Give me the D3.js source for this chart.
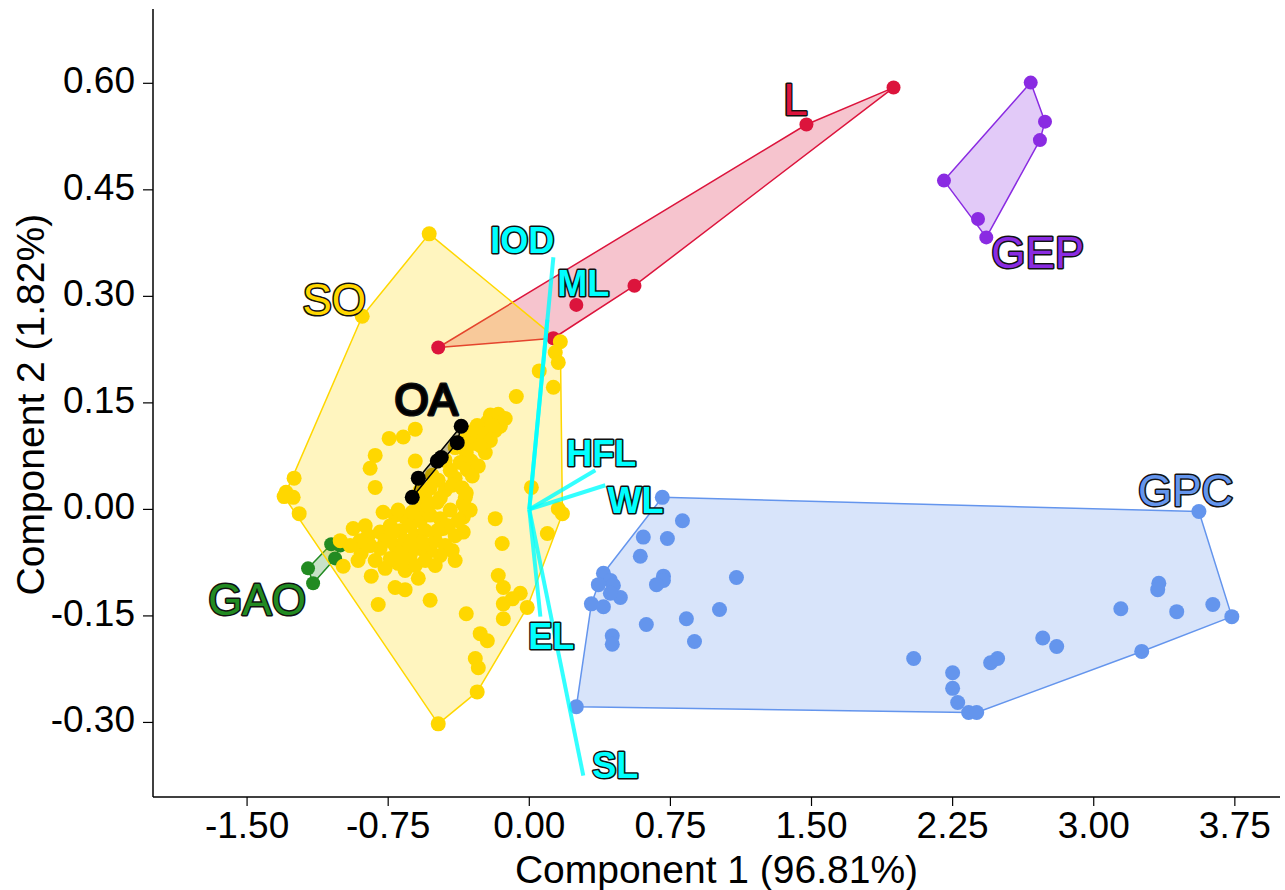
<!DOCTYPE html>
<html>
<head>
<meta charset="utf-8">
<script src="https://cdn.jsdelivr.net/npm/d3@7"></script>
<style>
  body { margin: 0; background: #ffffff; }
  text { font-family: "Liberation Sans", Arial, sans-serif; }
</style>
</head>
<body>
<svg id="chart" width="1285" height="890"></svg>
<script>
// ---- PCA scores (Component 1, Component 2) per group ----
const groupNames = ["GPC", "GEP", "L", "GAO", "SO", "OA"];

const scoresGPC = [
  [0.707,0.017],[0.814,-0.016],[0.606,-0.039],[0.734,-0.041],[0.590,-0.066],[0.394,-0.090],
  [0.431,-0.100],[0.367,-0.106],[0.447,-0.107],[0.484,-0.124],[0.431,-0.118],[0.330,-0.133],
  [0.394,-0.137],[0.713,-0.094],[0.713,-0.100],[0.676,-0.106],[1.101,-0.096],[1.011,-0.141],
  [0.835,-0.154],[0.622,-0.162],[0.441,-0.178],[0.441,-0.190],[0.878,-0.186],[0.250,-0.278],
  [3.559,-0.003],[3.346,-0.104],[3.340,-0.113],[3.633,-0.134],[3.734,-0.151],[3.441,-0.144],
  [3.144,-0.140],[3.255,-0.200],[2.729,-0.181],[2.803,-0.193],[2.452,-0.216],[2.489,-0.210],
  [2.043,-0.210],[2.250,-0.230],[2.250,-0.252],[2.277,-0.272],[2.335,-0.286],[2.378,-0.286]
];

const scoresGEP = [
  [2.665,0.601],[2.741,0.546],[2.714,0.520],[2.204,0.463],[2.385,0.409],[2.429,0.383]
];

const scoresL = [
  [1.936,0.594],[1.473,0.542],[0.559,0.315],[0.250,0.288],[-0.484,0.228],[0.128,0.241]
];

const scoresGAO = [
  [-1.053,-0.049],[-1.005,-0.051],[-1.032,-0.069],[-1.176,-0.083],[-1.149,-0.104]
];

const scoresSO = [
  [-0.532,0.388],[-0.888,0.272],[0.165,0.236],[0.138,0.221],[0.154,0.207],[0.053,0.195],
  [0.128,0.172],[-0.069,0.159],[-1.250,0.044],[-1.293,0.024],[-1.255,0.017],[-1.223,-0.006],
  [-1.303,0.018],[-0.819,0.076],[-0.846,0.058],[-0.819,0.031],[-0.745,0.100],[-0.670,0.102],
  [-0.606,0.113],[-0.606,0.068],[0.011,0.031],[0.176,-0.006],[0.154,0.001],[0.096,-0.034],
  [-0.181,-0.013],[-0.144,-0.048],[-0.351,-0.032],[-0.351,-0.011],[-0.165,-0.093],[-0.138,-0.110],
  [-0.138,-0.133],[-0.048,-0.118],[-0.011,-0.138],[-0.138,-0.154],[-0.090,-0.126],[-0.840,-0.094],
  [-0.803,-0.134],[-0.713,-0.110],[-0.660,-0.113],[-0.527,-0.128],[-0.335,-0.147],[-0.261,-0.175],
  [-0.223,-0.185],[-0.287,-0.210],[-0.271,-0.223],[-0.277,-0.257],[-0.484,-0.302],[-0.989,-0.080],
  [-0.936,-0.027],[-0.894,-0.062],[-0.697,-0.076],
  [-0.207,0.133],[-0.165,0.134],[-0.154,0.117],[-0.223,0.123],[-0.277,0.118],[-0.250,0.107],
  [-0.314,0.109],[-0.293,0.093],[-0.234,0.080],[-0.351,0.097],[-0.394,0.087],[-0.335,0.080],
  [-0.367,0.066],[-0.309,0.068],[-0.420,0.055],[-0.447,0.069],[-0.330,0.056],[-0.394,0.044],
  [-0.484,0.041],[-0.447,0.027],[-0.527,0.030],[-0.553,0.016],[-0.473,0.016],[-0.410,0.034],
  [-0.356,0.030],[-0.340,0.017],[-0.340,0.003],[-0.271,0.061],[-0.303,0.047],[-0.207,0.097],
  [-0.261,0.090],[-0.181,0.111],[-0.516,0.048],[-0.580,0.027],[-0.128,0.128],[-0.197,0.118],
  [-0.856,-0.037],[-0.793,-0.032],[-0.713,-0.008],[-0.660,-0.011],[-0.739,-0.023],[-0.686,-0.030],
  [-0.633,-0.023],[-0.580,-0.016],[-0.527,-0.008],[-0.473,-0.013],[-0.457,-0.027],[-0.420,-0.001],
  [-0.590,0.001],[-0.537,0.006],[-0.489,0.010],[-0.766,-0.044],[-0.713,-0.051],[-0.660,-0.044],
  [-0.606,-0.037],[-0.553,-0.030],[-0.500,-0.044],[-0.447,-0.051],[-0.394,-0.037],[-0.410,-0.058],
  [-0.473,-0.065],[-0.527,-0.058],[-0.580,-0.055],[-0.633,-0.065],[-0.686,-0.061],[-0.739,-0.069],
  [-0.793,-0.055],[-0.846,-0.051],[-0.899,-0.044],[-0.819,-0.072],[-0.766,-0.083],[-0.660,-0.086],
  [-0.606,-0.079],[-0.553,-0.072],[-0.500,-0.079],[-0.431,-0.023],[-0.378,-0.016],[-0.314,-0.001],
  [-0.351,0.008],[-0.335,0.023],[-0.952,-0.051],[-0.910,-0.072],[-0.729,-0.034],[-0.569,-0.047],
  [-0.489,-0.030],[-0.633,-0.051],[-0.697,-0.001],[-0.622,-0.004],[-0.394,-0.072],[-0.872,-0.023],
  [-1.005,-0.044],[-0.676,-0.072],[-0.590,-0.097],[-0.777,-0.004]
];

const scoresOA = [
  [-0.362,0.117],[-0.383,0.094],[-0.468,0.073],[-0.489,0.068],[-0.590,0.044],[-0.622,0.017]
];

// group label anchors (data units)
const groupLabelX = [3.489, 2.702, 1.415, -1.447, -1.037, -0.548];
const groupLabelY = [0.027, 0.362, 0.577, -0.126, 0.296, 0.155];

// ---- variable loadings ----
const loadingNames = ["IOD", "ML", "HFL", "WL", "EL", "SL"];
const loadingX = [0.128, 0.096, 0.351, 0.404, 0.059, 0.287];
const loadingY = [0.355, 0.267, 0.055, 0.034, -0.151, -0.375];
const loadingLabelX = [-0.037, 0.287, 0.383, 0.564, 0.117, 0.457];
const loadingLabelY = [0.379, 0.319, 0.080, 0.013, -0.178, -0.360];

// ---- axes ----
const xTicks = [-1.5, -0.75, 0, 0.75, 1.5, 2.25, 3.0, 3.75];
const yTicks = [-0.3, -0.15, 0, 0.15, 0.3, 0.45, 0.6];
const xTitle = "Component 1 (96.81%)";
const yTitle = "Component 2 (1.82%)";

// ---- styling ----
const groupColor = {
  GPC: "#6495ED", GEP: "#8A2BE2", L: "#DC143C", GAO: "#228B22", SO: "#FFD700", OA: "#000000"
};
const pointRadius = { GPC: 7.5, GEP: 7, L: 7, GAO: 7, SO: 7.5, OA: 7.5 };
const groupScores = { GPC: scoresGPC, GEP: scoresGEP, L: scoresL, GAO: scoresGAO, SO: scoresSO, OA: scoresOA };

const plot = { left: 153, right: 1280, top: 12.3, bottom: 797, axisTop: 9 };

const x = d3.scaleLinear().domain([-2.0, 3.99]).range([plot.left, plot.right]);
const y = d3.scaleLinear().domain([-0.405, 0.7]).range([plot.bottom, plot.top]);

const svg = d3.select("#chart");
const hullLayer = svg.append("g");
const pointLayer = svg.append("g");
const topLayer = svg.append("g");

function drawHull(layer, g) {
  const pts = groupScores[g].map(d => [x(d[0]), y(d[1])]);
  const hull = d3.polygonHull(pts);
  const col = groupColor[g];
  if (hull) {
    layer.append("path")
      .attr("d", "M" + hull.join("L") + "Z")
      .attr("fill", col)
      .attr("fill-opacity", 0.25)
      .attr("stroke", col)
      .attr("stroke-width", 1.5)
      .attr("stroke-linejoin", "round");
  }
}
function drawPoints(layer, g) {
  layer.append("g")
    .selectAll("circle")
    .data(groupScores[g])
    .join("circle")
    .attr("cx", d => x(d[0]))
    .attr("cy", d => y(d[1]))
    .attr("r", pointRadius[g])
    .attr("fill", groupColor[g]);
}

// the OA group sits inside SO, so its hull and points go on top
groupNames.filter(g => g !== "OA").forEach(g => drawHull(hullLayer, g));
groupNames.filter(g => g !== "OA").forEach(g => drawPoints(pointLayer, g));
drawHull(topLayer, "OA");
drawPoints(topLayer, "OA");

// loading vectors from the origin
const vec = svg.append("g");
loadingNames.forEach((n, i) => {
  vec.append("line")
    .attr("x1", x(0)).attr("y1", y(0))
    .attr("x2", x(loadingX[i])).attr("y2", y(loadingY[i]))
    .attr("stroke", "#00FFFF")
    .attr("stroke-opacity", 0.8)
    .attr("stroke-width", 4)
    .attr("stroke-linecap", "butt");
});

// axes
const axisG = svg.append("g");
axisG.append("line")
  .attr("x1", plot.left).attr("x2", plot.right)
  .attr("y1", plot.bottom).attr("y2", plot.bottom)
  .attr("stroke", "#000").attr("stroke-width", 1.5);
axisG.append("line")
  .attr("x1", plot.left).attr("x2", plot.left)
  .attr("y1", plot.axisTop).attr("y2", plot.bottom)
  .attr("stroke", "#000").attr("stroke-width", 1.5);

const fmt = v => v.toFixed(2);

xTicks.forEach(t => {
  axisG.append("line")
    .attr("x1", x(t)).attr("x2", x(t))
    .attr("y1", plot.bottom).attr("y2", plot.bottom + 9)
    .attr("stroke", "#000").attr("stroke-width", 1.2);
  axisG.append("text")
    .attr("x", x(t)).attr("y", plot.bottom + 41)
    .attr("text-anchor", "middle")
    .attr("font-size", 37)
    .attr("fill", "#000")
    .text(fmt(t));
});

yTicks.forEach(t => {
  axisG.append("line")
    .attr("x1", plot.left - 10).attr("x2", plot.left)
    .attr("y1", y(t)).attr("y2", y(t))
    .attr("stroke", "#000").attr("stroke-width", 1.2);
  axisG.append("text")
    .attr("x", plot.left - 18).attr("y", y(t) + 10)
    .attr("text-anchor", "end")
    .attr("font-size", 37)
    .attr("fill", "#000")
    .text(fmt(t));
});

axisG.append("text")
  .attr("x", (plot.left + plot.right) / 2).attr("y", 883)
  .attr("text-anchor", "middle")
  .attr("font-size", 39)
  .attr("fill", "#000")
  .text(xTitle);

axisG.append("text")
  .attr("transform", `translate(44, ${(plot.top + plot.bottom) / 2}) rotate(-90)`)
  .attr("text-anchor", "middle")
  .attr("font-size", 39)
  .attr("fill", "#000")
  .text(yTitle);

// labels with dark outline
const lab = svg.append("g");
loadingNames.forEach((n, i) => {
  lab.append("text")
    .attr("x", x(loadingLabelX[i])).attr("y", y(loadingLabelY[i]))
    .attr("dy", "0.36em")
    .attr("text-anchor", "middle")
    .attr("font-size", 36)
    .attr("font-weight", "bold")
    .attr("fill", "#00FFFF")
    .attr("stroke", "#111")
    .attr("stroke-width", 3)
    .attr("stroke-linejoin", "round")
    .attr("paint-order", "stroke")
    .text(n);
});

groupNames.forEach((g, i) => {
  lab.append("text")
    .attr("x", x(groupLabelX[i])).attr("y", y(groupLabelY[i]))
    .attr("dy", "0.36em")
    .attr("text-anchor", "middle")
    .attr("font-size", 44)
    .attr("fill", groupColor[g])
    .attr("stroke", "#111")
    .attr("stroke-width", 3)
    .attr("stroke-linejoin", "round")
    .attr("paint-order", "stroke")
    .text(g);
});
</script>
</body>
</html>
